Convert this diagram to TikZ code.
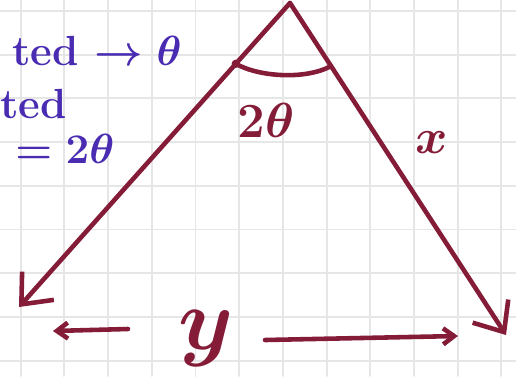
\RequirePackage{fix-cm}
\documentclass[tikz,border=0pt]{standalone}
\usepackage{tikz}
\usetikzlibrary{arrows.meta,calc}
\definecolor{inkred}{HTML}{841C38}
\definecolor{inkblue}{HTML}{4A2CB2}
\definecolor{gridgray}{HTML}{E6E6E6}

\begin{document}
\begin{tikzpicture}[x=0.02cm, y=-0.02cm, >=stealth, line cap=round, line join=round,
		gridline/.style={draw=gridgray, line width=1.1pt},
		pen/.style={draw=inkred, line width=2.6pt},
		bigbarb/.style={-{Straight Barb[length=0.5cm,width=0.85cm]}},
		smallbarb/.style={-{Straight Barb[length=0.22cm,width=0.32cm]}},
		note/.style={text=inkblue, font=\fontsize{24}{28}\selectfont\bfseries\boldmath, anchor=base west, inner sep=0pt},
		lbl/.style={text=inkred, font=\fontsize{28}{32}\selectfont\bfseries\boldmath, inner sep=0pt}]
		\useasboundingbox (0,0) rectangle (516,376);
		\fill[white] (0,0) rectangle (516,376);
		\clip (0,0) rectangle (516,376);
		\foreach \k in {0,...,11}
			\draw[gridline] ({20.7+43.7*\k},0) -- ({20.7+43.7*\k},376);
		\foreach \k in {0,...,8}
			\draw[gridline] (0,{11+43.7*\k}) -- (516,{11+43.7*\k});

		\node[note] (line1) at (12,65) {ted $\rightarrow\theta$};
		\node[note] (line2) at (0,118) {ted};
		\node[note] (line3) at (15,163) {$=2\theta$};

		\coordinate (apex) at (290,3);
		\coordinate (leftend) at (19,307);
		\coordinate (rightend) at (506,335);
		\draw[pen, bigbarb] (apex) -- (leftend);
		\draw[pen, bigbarb] (apex) -- (rightend);
		\coordinate (arcl) at ($(apex)!0.2!(leftend)$);
		\coordinate (arcr) at ($(apex)!0.19!(rightend)$);
		\draw[pen] (arcl) .. controls +(23,13) and +(-26,14) .. (arcr);
		\fill[inkred] (arcl) circle (2.4pt);

		\node[lbl, anchor=base] (angle) at (266,137) {$2\theta$};
		\node[lbl, anchor=base] (side) at (432,153) {$x$};
		\node[lbl, font=\fontsize{50}{56}\selectfont\boldmath] (base) at (206,339) {$y$};

		\coordinate (leftstart) at (128,329);
		\coordinate (lefttip) at (53,331);
		\coordinate (rightstart) at (265,340);
		\coordinate (righttip) at (458,336);
		\draw[pen, smallbarb] (leftstart) -- (lefttip);
		\draw[pen, smallbarb] (rightstart) -- (righttip);
	\end{tikzpicture}
\end{document}
